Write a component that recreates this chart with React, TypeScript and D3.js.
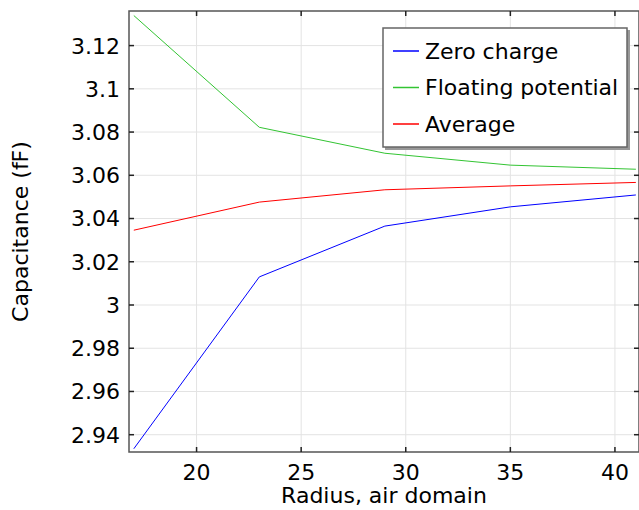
import * as d3 from 'd3';
import { useEffect, useRef } from 'react';

// radius of the air domain
const radius = [17, 23, 29, 35, 41];

const zeroCharge = [2.9335, 3.013, 3.0365, 3.0454, 3.0509];
const floatingPotential = [3.1339, 3.0822, 3.0702, 3.0647, 3.0628];
const average = [3.0346, 3.0476, 3.0533, 3.0551, 3.0567];

const xTicks = [20, 25, 30, 35, 40];
const yTicks = [2.94, 2.96, 2.98, 3.0, 3.02, 3.04, 3.06, 3.08, 3.1, 3.12];

const seriesNames = ['Zero charge', 'Floating potential', 'Average'];
const seriesColors = ['#0000ff', '#33c433', '#ff0000'];

const W = 639;
const H = 510;
const FONT = '"DejaVu Sans", sans-serif';
const FS = 22;

const App = () => {
  const ref = useRef<SVGSVGElement>(null);

  useEffect(() => {
    const svg = d3.select(ref.current);
    svg.selectAll('*').remove();

    const margin = { left: 129, right: 0, top: 11, bottom: 58 };
    const x = d3.scaleLinear().domain([16.77, 41.15]).range([margin.left, W - margin.right]);
    const y = d3.scaleLinear().domain([2.932, 3.136]).range([H - margin.bottom, margin.top]);
    const [x0, x1] = x.range();
    const [y1, y0] = y.range();

    svg.append('rect').attr('width', W).attr('height', H).attr('fill', '#fff');

    svg
      .append('clipPath')
      .attr('id', 'plotclip')
      .append('rect')
      .attr('x', x0)
      .attr('y', y0)
      .attr('width', x1 - x0)
      .attr('height', y1 - y0);

    // grid
    const grid = svg.append('g').attr('stroke', '#e3e3e3').attr('stroke-width', 1);
    xTicks.forEach((t) => {
      grid.append('line').attr('x1', x(t)).attr('x2', x(t)).attr('y1', y0).attr('y2', y1);
    });
    yTicks.forEach((t) => {
      grid.append('line').attr('x1', x0).attr('x2', x1).attr('y1', y(t)).attr('y2', y(t));
    });

    // series
    const line = d3
      .line<number>()
      .x((_, i) => x(radius[i]))
      .y((d) => y(d));
    const lines = svg.append('g').attr('clip-path', 'url(#plotclip)');
    [zeroCharge, floatingPotential, average].forEach((vals, i) => {
      lines
        .append('path')
        .attr('d', line(vals))
        .attr('fill', 'none')
        .attr('stroke', seriesColors[i])
        .attr('stroke-width', 1);
    });

    // frame + inward ticks
    svg
      .append('rect')
      .attr('x', x0)
      .attr('y', y0)
      .attr('width', x1 - x0)
      .attr('height', y1 - y0)
      .attr('fill', 'none')
      .attr('stroke', '#555')
      .attr('stroke-width', 1.5);

    const ticks = svg.append('g').attr('stroke', '#222').attr('stroke-width', 1.5);
    xTicks.forEach((t) => {
      ticks.append('line').attr('x1', x(t)).attr('x2', x(t)).attr('y1', y1).attr('y2', y1 - 5);
      ticks.append('line').attr('x1', x(t)).attr('x2', x(t)).attr('y1', y0).attr('y2', y0 + 5);
    });
    yTicks.forEach((t) => {
      ticks.append('line').attr('x1', x0).attr('x2', x0 + 5).attr('y1', y(t)).attr('y2', y(t));
      ticks.append('line').attr('x1', x1).attr('x2', x1 - 5).attr('y1', y(t)).attr('y2', y(t));
    });

    // tick labels
    const fmt = d3.format('~g');
    svg
      .append('g')
      .selectAll('text')
      .data(xTicks)
      .join('text')
      .attr('x', (d) => x(d))
      .attr('y', y1 + 28)
      .attr('text-anchor', 'middle')
      .attr('font-family', FONT)
      .attr('font-size', FS)
      .attr('fill', '#000')
      .text((d) => fmt(d));

    svg
      .append('g')
      .selectAll('text')
      .data(yTicks)
      .join('text')
      .attr('x', x0 - 9)
      .attr('y', (d) => y(d))
      .attr('dy', '0.36em')
      .attr('text-anchor', 'end')
      .attr('font-family', FONT)
      .attr('font-size', FS)
      .attr('fill', '#000')
      .text((d) => fmt(d));

    // axis titles
    svg
      .append('text')
      .attr('x', (x0 + x1) / 2)
      .attr('y', 503)
      .attr('text-anchor', 'middle')
      .attr('font-family', FONT)
      .attr('font-size', FS)
      .attr('fill', '#000')
      .text('Radius, air domain');

    svg
      .append('text')
      .attr('transform', `translate(28, ${(y0 + y1) / 2}) rotate(-90)`)
      .attr('text-anchor', 'middle')
      .attr('font-family', FONT)
      .attr('font-size', FS)
      .attr('fill', '#000')
      .text('Capacitance (fF)');

    // legend
    const lg = svg.append('g').attr('transform', 'translate(383, 28)');
    lg.append('rect')
      .attr('x', 2)
      .attr('y', 2)
      .attr('width', 245)
      .attr('height', 120)
      .attr('fill', '#999');
    lg.append('rect')
      .attr('width', 244)
      .attr('height', 119)
      .attr('fill', '#fff')
      .attr('stroke', '#666')
      .attr('stroke-width', 1.5);
    seriesNames.forEach((name, i) => {
      const cy = 23 + i * 36.5;
      lg.append('line')
        .attr('x1', 10)
        .attr('x2', 36)
        .attr('y1', cy)
        .attr('y2', cy)
        .attr('stroke', seriesColors[i])
        .attr('stroke-width', 1.5);
      lg.append('text')
        .attr('x', 42)
        .attr('y', cy)
        .attr('dy', '0.36em')
        .attr('font-family', FONT)
        .attr('font-size', FS)
        .attr('fill', '#000')
        .text(name);
    });
  }, []);

  return <svg ref={ref} width={W} height={H} style={{ display: 'block', position: 'absolute', left: 0, top: 0 }} />;
};

export default App;
